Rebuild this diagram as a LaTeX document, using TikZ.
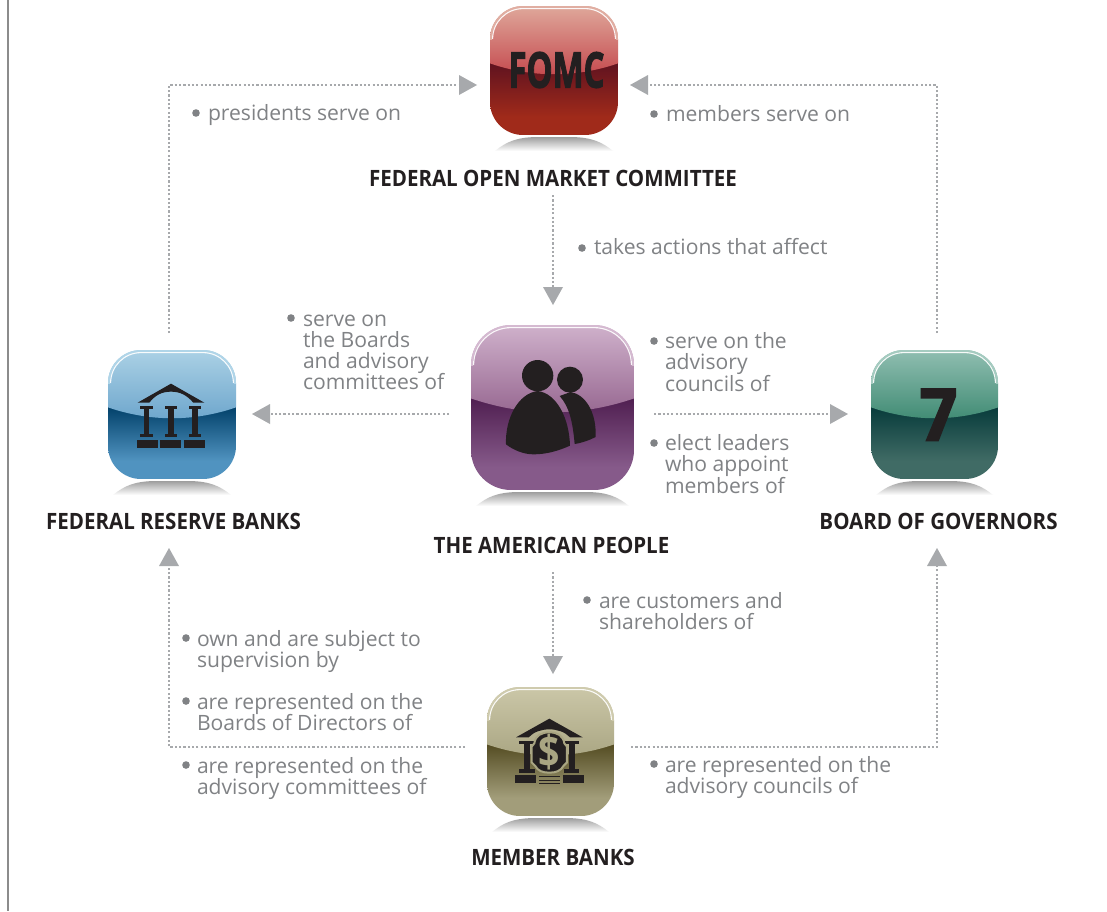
\documentclass[tikz,border=0pt]{standalone}
\usepackage{fontspec}
\setmainfont{Open Sans}
\newfontfamily\heavyfont[FakeBold=2.5]{Open Sans Bold}
\usetikzlibrary{calc,arrows.meta}
\definecolor{txt}{HTML}{808285}
\definecolor{conn}{HTML}{A7A9AC}
\definecolor{iconblack}{HTML}{231F20}
\tikzset{
 conline/.style={conn,line width=2.6pt,dash pattern=on 2.2pt off 2.1pt},
 contip/.style={fill=conn,draw=none},
 say/.style={txt,font=\fontsize{21.1pt}{21.3pt}\selectfont,align=left,anchor=north west,inner sep=0pt,outer sep=0pt},
 title/.style={font=\fontsize{22.5pt}{24pt}\selectfont\bfseries,text=iconblack,inner sep=0pt,outer sep=0pt,xscale=.912},
 darkicon/.style={fill=iconblack}
}
% #1 name #2 cx #3 cy #4 w #5 h #6 r #7 border #8 upper top #9 upper bottom; lower colours via \lowcols
\newcommand\lowcols[2]{\def\lowA{#1}\def\lowB{#2}}
\newcommand\glossicon[9]{%
 \pgfmathsetmacro\hw{#4/2}\pgfmathsetmacro\hh{#5/2}%
 \shade[top color=black!38,bottom color=white]
   ($(#2,#3)+(-\hw+5,\hh+16)$) .. controls ($(#2,#3)+(-\hw+16,\hh+7)$) and ($(#2,#3)+(-\hw+26,\hh+2.5)$) .. ($(#2,#3)+(-\hw+46,\hh+2)$)
   -- ($(#2,#3)+(\hw-46,\hh+2)$) .. controls ($(#2,#3)+(\hw-26,\hh+2.5)$) and ($(#2,#3)+(\hw-16,\hh+7)$) .. ($(#2,#3)+(\hw-5,\hh+16)$) -- cycle;
 \node[minimum width=#4pt,minimum height=#5pt,inner sep=0pt,outer sep=0pt] (#1) at (#2,#3) {};
 \begin{scope}
  \clip[rounded corners=#6pt] ($(#2,#3)+(-\hw,-\hh)$) rectangle ($(#2,#3)+(\hw,\hh)$);
  \fill[white] ($(#2,#3)+(-\hw,-\hh)$) rectangle ($(#2,#3)+(\hw,\hh)$);
  \shade[top color=\lowA,bottom color=\lowB]
    ($(#2,#3)+(-\hw,-0.07*#5)$) rectangle ($(#2,#3)+(\hw,0.36*#5)$);
  \fill[\lowB] ($(#2,#3)+(-\hw,0.359*#5)$) rectangle ($(#2,#3)+(\hw,\hh)$);
  \shade[top color=#8,bottom color=#9]
    ($(#2,#3)+(-\hw,-\hh)$) -- ($(#2,#3)+(\hw,-\hh)$) -- ($(#2,#3)+(\hw,-0.055*#5)$)
    .. controls ($(#2,#3)+(0.17*#4,0.057*#5)$) and ($(#2,#3)+(-0.17*#4,0.057*#5)$) .. ($(#2,#3)+(-\hw,-0.055*#5)$) -- cycle;
  \begin{scope}
   \clip ($(#2,#3)+(-\hw,-\hh)$) rectangle ($(#2,#3)+(\hw,-\hh+#6)$);
   \draw[#7,line width=3.6pt,rounded corners=#6pt] ($(#2,#3)+(-\hw,-\hh)$) rectangle ($(#2,#3)+(\hw,\hh)$);
  \end{scope}
  \draw[white,line width=1.1pt,opacity=.92] ($(#2,#3)+(-\hw+2.6,-\hh+#6)$)
    arc[start angle=180,end angle=90,radius=#6pt-2.6pt] -- ($(#2,#3)+(\hw-#6,-\hh+2.6)$)
    arc[start angle=90,end angle=0,radius=#6pt-2.6pt];
 \end{scope}
}
\begin{document}
\begin{tikzpicture}[x=1pt,y=-1pt]
\useasboundingbox (0,0) rectangle (1107,911);
\fill[white] (0,0) rectangle (1107,911);
\draw[black!45,line width=1.1pt] (8,0) -- (8,911);

% icons
\definecolor{la}{HTML}{5E1220}\definecolor{lb}{HTML}{A02A1A}\lowcols{la}{lb}
\definecolor{ua}{HTML}{DFA89B}\definecolor{ub}{HTML}{C4474C}\definecolor{bd}{HTML}{E0AEA2}
\glossicon{fomc}{554}{70.5}{128}{129}{33}{bd}{ua}{ub}
\node[font=\fontsize{49pt}{49pt}\selectfont\heavyfont,text=iconblack,inner sep=0pt,xscale=.67] (fomcmark) at (556.5,70) {FOMC};

\definecolor{la2}{HTML}{003F68}\definecolor{lb2}{HTML}{5093C0}\lowcols{la2}{lb2}
\definecolor{ua2}{HTML}{ABD1E5}\definecolor{ub2}{HTML}{6CA5CC}\definecolor{bd2}{HTML}{B0D5E8}
\glossicon{frb}{172}{414.5}{128}{129}{33}{bd2}{ua2}{ub2}
\begin{scope}[shift={(90,340)},x=.3333pt,y=-.3333pt]
 \fill[darkicon] (143,188) -- (243,131) -- (343,188) -- (310,188) .. controls (290,165) and (270,155) .. (243,155) .. controls (216,155) and (196,165) .. (178,188) -- cycle;
 \foreach \c in {170,243,315}{
  \fill[darkicon] (\c-19,197) rectangle (\c+19,207);
  \fill[darkicon] (\c-8,207) rectangle (\c+8,282);
  \fill[darkicon] (\c-19,282) rectangle (\c+19,291);
 }
 \fill[darkicon] (141,300) rectangle (204,324);
 \fill[darkicon] (210,300) rectangle (273,324);
 \fill[darkicon] (282,300) rectangle (345,324);
\end{scope}

\definecolor{la3}{HTML}{4E1D4F}\definecolor{lb3}{HTML}{865A8A}\lowcols{la3}{lb3}
\definecolor{ua3}{HTML}{CFB1CB}\definecolor{ub3}{HTML}{95658F}\definecolor{bd3}{HTML}{D5BAD1}
\glossicon{people}{552.5}{407.5}{163}{165}{40}{bd3}{ua3}{ub3}
\begin{scope}[shift={(450,315)},x=.3333pt,y=-.3333pt]
 \fill[darkicon] (360,194) circle[radius=39];
 \fill[darkicon] (329,243) -- (362,231) .. controls (405,238) and (440,290) .. (437,366) .. controls (420,375) and (395,384) .. (374,387) .. controls (368,320) and (358,275) .. (329,243) -- cycle;
 \fill[darkicon] (263,182) circle[radius=47];
 \fill[darkicon] (168,388) .. controls (165,310) and (205,235) .. (263,228) .. controls (320,235) and (358,310) .. (360,392) .. controls (320,410) and (285,418) .. (250,418) .. controls (220,418) and (190,405) .. (168,388) -- cycle;
\end{scope}

\definecolor{la4}{HTML}{063A3A}\definecolor{lb4}{HTML}{406B65}\lowcols{la4}{lb4}
\definecolor{ua4}{HTML}{90BEB1}\definecolor{ub4}{HTML}{3E8A72}\definecolor{bd4}{HTML}{A5CBC0}
\glossicon{gov}{934.5}{414.5}{127}{129}{33}{bd4}{ua4}{ub4}
\begin{scope}[shift={(850,340)},x=.3333pt,y=-.3333pt]
 \fill[darkicon] (212,144) -- (318,144) -- (318,170) -- (266,304) -- (226,304) -- (279,176) -- (212,176) -- cycle;
\end{scope}

\definecolor{la5}{HTML}{524A20}\definecolor{lb5}{HTML}{A29D7A}\lowcols{la5}{lb5}
\definecolor{ua5}{HTML}{CBC7A8}\definecolor{ub5}{HTML}{A9A582}\definecolor{bd5}{HTML}{CFCBAE}
\glossicon{member}{550.5}{751.5}{127}{129}{33}{bd5}{ua5}{ub5}
\begin{scope}[shift={(470,675)},x=.3333pt,y=-.3333pt]
 \fill[darkicon] (138,187) -- (238,131) -- (338,187) -- (300,187) .. controls (285,170) and (260,163) .. (238,163) .. controls (216,163) and (191,170) .. (176,187) -- cycle;
 \foreach \c in {171,305}{
  \fill[darkicon] (\c-23,197) rectangle (\c+23,207);
  \fill[darkicon] (\c-9,207) rectangle (\c+9,283);
  \fill[darkicon] (\c-23,283) rectangle (\c+23,293);
 }
 \fill[darkicon,draw=ub5,line width=2pt] (238,172) .. controls (262,172) and (280,182) .. (283,205) -- (291,215) -- (291,262) -- (281,272) .. controls (272,288) and (258,293) .. (238,293) .. controls (218,293) and (204,288) .. (195,272) -- (185,262) -- (185,215) -- (193,205) .. controls (196,182) and (214,172) .. (238,172) -- cycle;
 \fill[darkicon] (135,300) rectangle (198,325);
 \fill[darkicon] (279,300) rectangle (342,325);
 \fill[darkicon] (207,303) rectangle (270,306);
 \fill[darkicon] (207,314) rectangle (270,317);
 \fill[darkicon] (207,324) rectangle (270,327);
 \node[text=ub5,font=\fontsize{44pt}{44pt}\selectfont\bfseries,inner sep=0pt,xscale=.85] (dollar) at (238,230) {\$};
\end{scope}

% titles
\node[title] (tfomc) at (553,178) {FEDERAL OPEN MARKET COMMITTEE};
\node[title] (tfrb) at (173.5,521) {FEDERAL RESERVE BANKS};
\node[title] (tpeople) at (551.5,545) {THE AMERICAN PEOPLE};
\node[title] (tgov) at (938.5,521) {BOARD OF GOVERNORS};
\node[title] (tmember) at (553,857) {MEMBER BANKS};

% connector ends
\coordinate (c1) at (169,333); \coordinate (c1b) at (169,85); \coordinate (c1e) at (459,85);
\coordinate (c2) at (937,333); \coordinate (c2b) at (937,85); \coordinate (c2e) at (648,85);
\coordinate (c3) at (553,195); \coordinate (c3e) at (553,287);
\coordinate (c4) at (449,414); \coordinate (c4e) at (270,414);
\coordinate (c5) at (654,414); \coordinate (c5e) at (830,414);
\coordinate (c6) at (553,572); \coordinate (c6e) at (553,656);
\coordinate (c7) at (465,747); \coordinate (c7b) at (169,747); \coordinate (c7e) at (169,566);
\coordinate (c8) at (631,747); \coordinate (c8b) at (937,747); \coordinate (c8e) at (937,566);
\draw[conline] (c1) -- (c1b) -- (c1e);
\draw[conline] (c2) -- (c2b) -- (c2e);
\draw[conline] (c3) -- (c3e);
\draw[conline] (c4) -- (c4e);
\draw[conline] (c5) -- (c5e);
\draw[conline] (c6) -- (c6e);
\draw[conline] (c7) -- (c7b) -- (c7e);
\draw[conline] (c8) -- (c8b) -- (c8e);
% arrow heads
\fill[contip] (c1e) ++(0,-10) -- ++(18,10) -- ++(-18,10) -- cycle;
\fill[contip] (c2e) ++(0,-10) -- ++(-18,10) -- ++(18,10) -- cycle;
\fill[contip] (c3e) ++(-10,0) -- ++(10,18) -- ++(10,-18) -- cycle;
\fill[contip] (c4e) ++(0,-10) -- ++(-18,10) -- ++(18,10) -- cycle;
\fill[contip] (c5e) ++(0,-10) -- ++(18,10) -- ++(-18,10) -- cycle;
\fill[contip] (c6e) ++(-10,0) -- ++(10,18) -- ++(10,-18) -- cycle;
\fill[contip] (c7e) ++(-10,0) -- ++(10,-18) -- ++(10,18) -- cycle;
\fill[contip] (c8e) ++(-10,0) -- ++(10,-18) -- ++(10,18) -- cycle;

% labels
\newcommand\bul[2]{\fill[txt] (#1,#2) circle[radius=3.8];}
\bul{196}{113}\node[say] (l1) at (208,104) {presidents serve on};
\bul{654}{114}\node[say] (l2) at (666,105) {members serve on};
\bul{582}{248}\node[say] (l3) at (594,238.5) {takes actions that affect};
\bul{291}{318}\node[say] (l4) at (303,314.5) {serve on\\the Boards\\and advisory\\committees of};
\bul{654}{341}\node[say] (l5) at (665,332.5) {serve on the\\advisory\\councils of};
\bul{654}{443}\node[say] (l6) at (665,434.5) {elect leaders\\who appoint\\members of};
\bul{587}{600}\node[say] (l7) at (599,592.5) {are customers and\\shareholders of};
\bul{186}{638}\node[say] (l8) at (197,630) {own and are subject to\\supervision by};
\bul{186}{701}\node[say] (l9) at (197,693.5) {are represented on the\\Boards of Directors of};
\bul{186}{765}\node[say] (l10) at (197,757.5) {are represented on the\\advisory committees of};
\bul{654}{764}\node[say] (l11) at (665,756.5) {are represented on the\\advisory councils of};
\end{tikzpicture}
\end{document}
